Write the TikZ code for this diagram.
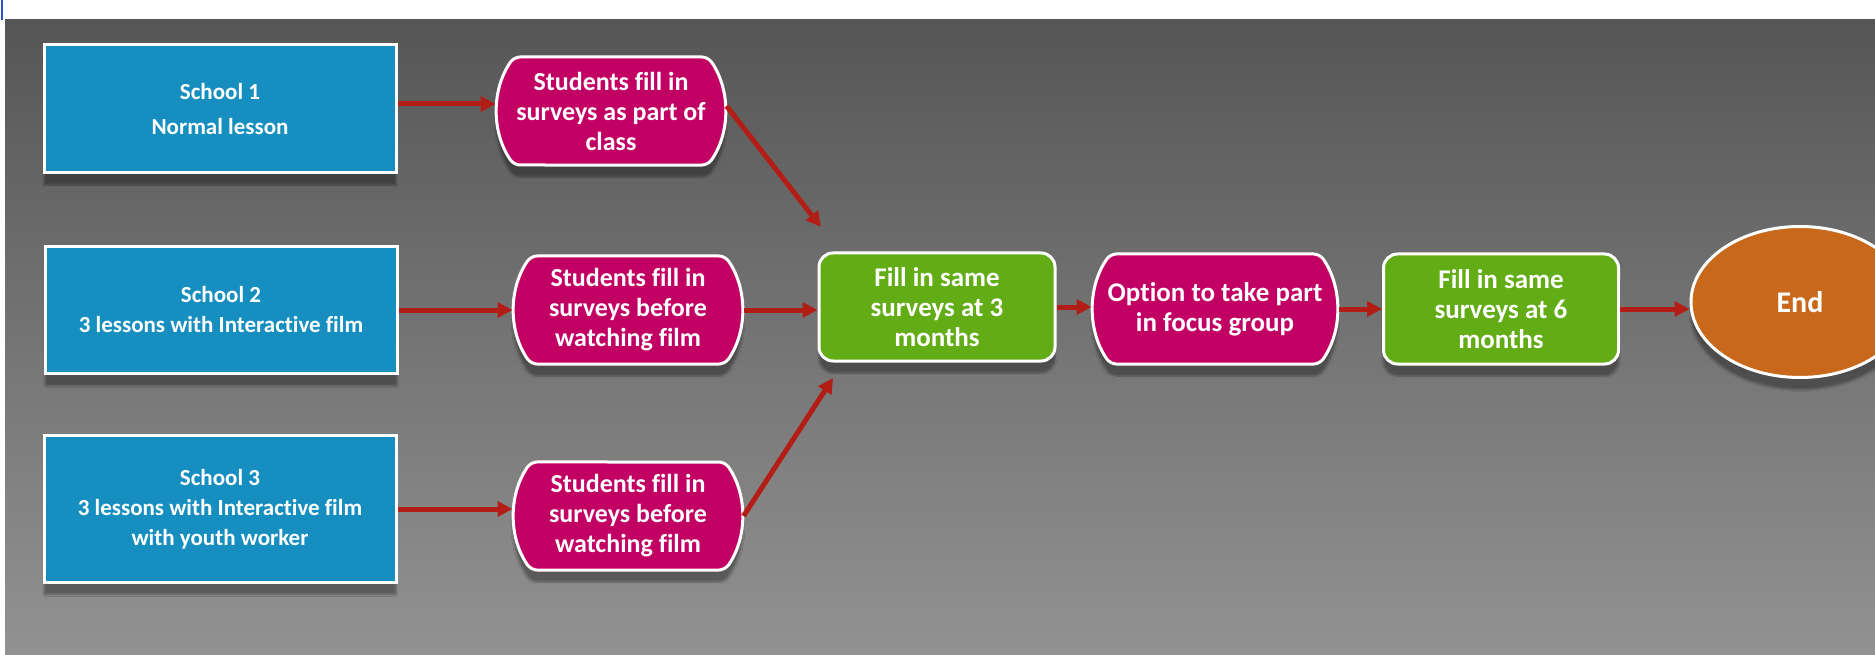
\documentclass[tikz,border=0pt]{standalone}
\usepackage{fontspec}
\setmainfont{Carlito}[Ligatures=NoCommon]
\usetikzlibrary{arrows.meta,shapes.misc,shapes.geometric,shadows.blur}
\definecolor{schoolblue}{RGB}{22,143,192}
\definecolor{pinkfill}{RGB}{194,0,100}
\definecolor{greenfill}{RGB}{98,172,22}
\definecolor{endorange}{RGB}{200,104,26}
\definecolor{arrowred}{RGB}{178,30,22}
\definecolor{bgtop}{RGB}{86,86,86}
\definecolor{bgbottom}{RGB}{146,146,146}
\definecolor{edgeblue}{RGB}{40,80,200}
\tikzset{
  shad/.style={blur shadow={shadow xshift=0pt,shadow yshift=-12pt,shadow opacity=35,shadow blur steps=6}},
  txt/.style={text=white,font=\bfseries\fontsize{26}{30}\selectfont,align=center},
  school/.style={txt,shad,draw=white,line width=3pt,fill=schoolblue,minimum width=352pt,inner sep=0pt,font=\bfseries\fontsize{23}{30}\selectfont},
  pinkbox/.style={txt,shad,draw=white,line width=3pt,fill=pinkfill,rounded rectangle,rounded rectangle arc length=70,minimum width=228pt,minimum height=108pt,inner sep=0pt,rounded corners=6pt},
  greenbox/.style={txt,shad,draw=white,line width=3pt,fill=greenfill,rounded corners=14pt,minimum width=236pt,minimum height=108pt,inner sep=0pt,font=\bfseries\fontsize{27}{30}\selectfont},
  endnode/.style={txt,shad,draw=white,line width=3pt,fill=endorange,ellipse,minimum width=218pt,minimum height=151pt,font=\bfseries\fontsize{30}{32}\selectfont},
  arr/.style={draw=arrowred,line width=5pt,-{Triangle[length=15pt,width=15pt]}}
}
\begin{document}
\begin{tikzpicture}[x=1pt,y=-1pt]
\clip (0,0) rectangle (1875,655);
\fill[white] (0,0) rectangle (1875,655);
\shade[top color=bgtop,bottom color=bgbottom] (5,20) rectangle (1875,655);
\draw[edgeblue,line width=1.5pt] (2,0) -- (2,20);
% schools
\node[school,minimum height=128pt] (s1) at (220,109) {School 1\\[5pt]Normal lesson};
\node[school,minimum height=127pt] (s2) at (221,310) {School 2\\3 lessons with Interactive film};
\node[school,minimum height=147pt] (s3) at (220,509) {School 3\\3 lessons with Interactive film\\with youth worker};
% pink
\node[pinkbox] (p1) at (611,111) {Students fill in\\surveys as part of\\class};
\node[pinkbox] (p2) at (628,310) {Students fill in\\surveys before\\watching film};
\node[pinkbox] (p3) at (628,516) {Students fill in\\surveys before\\watching film};
% main line
\node[greenbox] (g1) at (937,307) {Fill in same\\surveys at 3\\months};
\node[pinkbox,minimum width=244pt,minimum height=110pt,font=\bfseries\fontsize{27}{30}\selectfont] (p4) at (1215,309) {Option to take part\\in focus group};
\node[greenbox,minimum width=235pt,minimum height=110pt] (g2) at (1501,309) {Fill in same\\surveys at 6\\months};
\node[endnode] (e) at (1800,302) {End};
% free ends
\coordinate (c1) at (821,227);
\coordinate (c3) at (833,378);
% arrows
\draw[arr] ([yshift=5pt]s1.east) -- ([yshift=5pt]s1.east -| p1.west);
\draw[arr] (s2.east) -- (s2.east -| p2.west);
\draw[arr] (s3.east) -- (s3.east -| p3.west);
\draw[arr] ([yshift=5pt]p1.east) -- (c1);
\draw[arr] (p2.east) -- (p2.east -| g1.west);
\draw[arr] (p3.east) -- (c3);
\draw[arr] (g1.east) -- (g1.east -| p4.west);
\draw[arr] (p4.east) -- (p4.east -| g2.west);
\draw[arr] (g2.east) -- (g2.east -| e.west);
\end{tikzpicture}
\end{document}
